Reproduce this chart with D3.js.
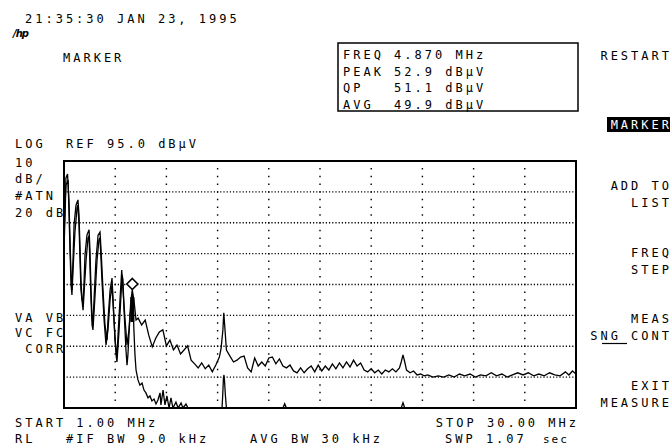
<!DOCTYPE html>
<html><head><meta charset="utf-8">
<script src="https://cdn.jsdelivr.net/npm/d3@7"></script>
<style>
html,body{margin:0;padding:0;background:#fff;}
svg text{font-family:"DejaVu Sans Mono",monospace;font-size:12px;letter-spacing:3px;white-space:pre;fill:#000;}
</style></head><body><svg id="c" width="671" height="447"></svg>
<script>
// ---- data (MHz, dBuV) ----
const peakFreq = [1.00,1.06,1.11,1.20,1.28,1.34,1.40,1.45,1.51,1.57,1.68,1.79,1.85,1.91,1.96,2.02,2.08,2.13,2.19,2.30,2.42,2.47,2.53,2.59,2.64,2.70,2.81,2.93,3.04,3.10,3.21,3.32,3.44,3.49,3.61,3.72,3.78,3.89,4.00,4.06,4.17,4.27,4.34,4.46,4.57,4.68,4.79,4.87,4.96,5.08,
5.2,5.4,5.6,5.8,6.0,6.2,6.4,6.6,6.8,7.0,7.2,7.4,7.6,7.8,8.0,8.2,8.4,8.6,8.8,9.0,9.2,9.4,9.6,9.8,9.9,10.0,10.05,10.1,10.2,10.4,10.6,10.8,11.0,11.2,11.4,11.6,11.8,12.0,12.2,12.4,12.6,12.8,13.0,13.2,13.4,13.6,13.8,14.0,14.2,14.4,14.6,14.8,15.0,15.2,15.4,15.6,15.8,16.0,16.2,16.4,16.6,16.8,17.0,17.2,17.4,17.6,17.8,18.0,18.2,18.4,18.6,18.8,19.0,19.2,19.4,19.6,19.8,20.0,20.1,20.2,20.3,20.4,20.6,20.8,21.0,21.2,21.4,
21.6,21.9,22.2,22.5,22.8,23.1,23.4,23.7,24.0,24.3,24.6,24.9,25.2,25.5,25.8,26.1,26.4,26.7,27.0,27.3,27.6,27.9,28.2,28.5,28.8,29.1,29.4,29.6,29.8,30.0];
const peakLevel = [70.0,80.0,89.5,90.8,82.4,69.4,58.1,53.2,62.9,74.3,80.7,82.4,77.5,66.2,56.5,50.0,49.0,54.8,64.6,71.0,72.7,66.2,53.2,44.1,41.9,50.0,62.9,71.0,72.0,66.2,53.2,41.9,37.0,43.5,53.2,57.1,50.0,37.0,31.5,38.6,50.0,59.7,53.2,43.5,35.4,40.3,50.0,52.9,50.0,43.5,
44.1,41.9,43.5,38.6,34.8,37.7,39.6,40.3,35.1,37.0,33.8,35.4,32.5,33.8,35.1,30.5,29.3,28.0,29.6,27.7,28.9,26.7,28.9,31.5,34.4,40.3,45.8,41.9,33.8,31.8,29.9,30.5,31.5,31.8,28.0,26.7,31.2,28.6,29.9,28.6,31.2,31.5,29.3,30.9,28.6,28.0,28.9,27.0,26.4,28.0,26.4,27.7,28.6,26.7,28.9,27.0,28.6,27.3,29.3,27.7,29.6,28.0,29.9,28.3,30.5,28.6,29.6,27.3,26.7,27.7,26.4,27.3,26.0,27.3,26.7,27.7,26.7,28.0,29.9,32.2,29.9,27.3,26.4,27.0,25.7,26.0,25.4,
25.7,25.0,25.4,25.0,25.7,25.0,26.0,25.4,26.0,25.0,25.7,25.4,26.4,25.4,26.0,25.0,25.7,26.4,25.7,26.4,25.4,26.0,25.4,26.4,25.7,25.4,26.7,25.7,27.0,26.0];

const avgFreq = [1.00,1.06,1.11,1.23,1.28,1.34,1.40,1.45,1.51,1.62,1.74,1.79,1.85,1.96,2.08,2.13,2.25,2.36,2.42,2.53,2.59,2.64,2.76,2.87,2.98,3.04,3.15,3.27,3.38,3.49,3.61,3.72,3.83,3.95,4.00,4.12,4.23,4.29,4.34,4.40,4.51,4.57,4.62,4.74,4.85,4.91,4.96,5.02,5.08,5.19,5.30,5.42,5.53,5.64,5.76,5.87,5.98,6.10,6.21,6.32,6.44,6.49,6.61,6.72,6.83,6.95,7.06,7.17,7.34,7.46,7.63,7.74,7.91,8.02,9.95,9.99,10.03,10.06,10.09,10.14,10.2,13.4,13.5,13.6,20.1,20.2,20.3,30.0];
const avgLevel = [66.0,78.0,87.2,88.8,79.1,66.2,54.8,51.6,59.7,72.0,79.8,80.7,74.3,53.2,46.7,51.6,62.9,70.1,70.7,50.0,41.9,40.3,51.6,62.9,69.4,70.1,56.5,43.5,35.4,40.3,50.0,54.8,43.5,32.2,29.9,40.3,51.6,58.1,56.5,46.7,33.8,28.9,32.2,45.1,50.0,48.4,40.3,32.2,27.3,24.1,22.4,23.1,20.8,19.9,18.3,18.9,17.3,17.9,16.3,17.6,19.9,16.0,20.8,16.0,18.9,15.0,18.3,15.0,16.9,15.0,16.6,15.0,16.3,15.0,15.0,19.2,24.5,25.7,24.0,19.2,15.0,15.0,16.4,15.0,15.0,16.7,15.0,15.0];

const refLevel = 95, dbPerDiv = 10, vDivs = 8, hDivs = 10;
const startMHz = 1.00, stopMHz = 30.00;
const markerFreq = 4.870, markerPeak = 52.9, markerQP = 51.1, markerAvg = 49.9;

const leftLabels = [["LOG  REF 95.0 dBμV",148],["10",167],["dB/",183],["#ATN",200],["20 dB",217],["VA VB",322],["VC FC",337],[" CORR",353],["START 1.00 MHz",427],["RL   #IF BW 9.0 kHz",443]];
const softkeys = [["RESTART",60],["ADD TO",190],["LIST",207],["FREQ",257],["STEP",273.5],["MEAS",323],["EXIT",390],["MEASURE",407]];

// ---- drawing ----
const svg = d3.select("#c");
svg.append("rect").attr("width",671).attr("height",447).attr("fill","#fff");

const L=64,R=576,T=161,B=408;
const x = d3.scaleLinear().domain([startMHz,stopMHz]).range([L,R]);
const y = d3.scaleLinear().domain([refLevel-dbPerDiv*vDivs, refLevel]).range([B,T]);

// graticule
const g = svg.append("g");
d3.range(1,vDivs).forEach(i=>{
  const yy = y(refLevel - i*dbPerDiv);
  g.append("line").attr("x1",L-0.6).attr("x2",R).attr("y1",yy).attr("y2",yy)
   .attr("stroke","#000").attr("stroke-width",1.3).attr("stroke-dasharray","1.2 2");
});
d3.range(1,hDivs).forEach(i=>{
  const xx = x(startMHz + i*(stopMHz-startMHz)/hDivs);
  g.append("line").attr("x1",xx).attr("x2",xx).attr("y1",T-0.75).attr("y2",B)
   .attr("stroke","#000").attr("stroke-width",1.4).attr("stroke-dasharray","1.5 6.22");
});

// traces
svg.append("clipPath").attr("id","pc").append("rect").attr("x",L).attr("y",T).attr("width",R-L).attr("height",B-T);
const line = d3.line().x(d=>x(d[0])).y(d=>y(d[1]));
const pts = (fs,vs)=>fs.map((f,i)=>[f,vs[i]]);
svg.append("path").attr("d",line(pts(avgFreq,avgLevel))).attr("fill","none").attr("stroke","#000")
  .attr("stroke-width",1.3).attr("clip-path","url(#pc)");
svg.append("path").attr("d",line(pts(peakFreq,peakLevel))).attr("fill","none").attr("stroke","#000")
  .attr("stroke-width",1.3).attr("clip-path","url(#pc)");

// frame
svg.append("rect").attr("x",L).attr("y",T).attr("width",R-L).attr("height",B-T)
  .attr("fill","none").attr("stroke","#000").attr("stroke-width",2);

// marker
const mx = x(markerFreq), my = y(markerPeak);
svg.append("line").attr("x1",mx).attr("x2",mx).attr("y1",my-2).attr("y2",my+7).attr("stroke","#000").attr("stroke-width",1.5);
svg.append("line").attr("x1",mx).attr("x2",mx).attr("y1",my+6).attr("y2",my+31).attr("stroke","#000").attr("stroke-width",4);
const dc = my-7, ds=5.5;
svg.append("path").attr("d",`M${mx},${dc-ds}L${mx+ds},${dc}L${mx},${dc+ds}L${mx-ds},${dc}Z`)
  .attr("fill","#fff").attr("stroke","#000").attr("stroke-width",1.6);

// header texts
const t = (s,xx,yy,anchor)=>svg.append("text").attr("x",xx).attr("y",yy).attr("text-anchor",anchor||"start").text(s);
t("21:35:30 JAN 23, 1995",25,23);
svg.append("text").attr("x",13).attr("y",37).text("/hp")
  .style("font-family","DejaVu Sans").style("font-style","italic").style("font-weight","bold")
  .style("font-size","10px").style("letter-spacing","-1px");
t("MARKER",63,62);

// marker readout box
svg.append("rect").attr("x",338).attr("y",43).attr("width",240).attr("height",68)
  .attr("fill","none").attr("stroke","#000").attr("stroke-width",1.5);
const readout = [
  "FREQ " + markerFreq.toFixed(3) + " MHz",
  "PEAK " + markerPeak.toFixed(1) + " dBμV",
  "QP   " + markerQP.toFixed(1) + " dBμV",
  "AVG  " + markerAvg.toFixed(1) + " dBμV"];
readout.forEach((s,i)=>t(s,343,59+i*16.5));

// left annotations
leftLabels.forEach(([s,yy])=>t(s,15,yy));
t("AVG BW 30 kHz",250,443);
t("STOP 30.00 MHz",579,427,"end");
t("SWP 1.07",445,443);
svg.append("text").attr("x",543).attr("y",443).text("sec").style("font-size","11px").style("letter-spacing","2px");

// softkeys
softkeys.forEach(([s,yy])=>t(s,672,yy,"end"));
svg.append("rect").attr("x",607).attr("y",117).attr("width",63).attr("height",15).attr("fill","#000");
t("MARKER",672,128.5,"end").style("fill","#fff");
t("SNG CONT",672,340,"end");
svg.append("line").attr("x1",602).attr("x2",627).attr("y1",343.5).attr("y2",343.5).attr("stroke","#000").attr("stroke-width",1.2);
</script></body></html>
